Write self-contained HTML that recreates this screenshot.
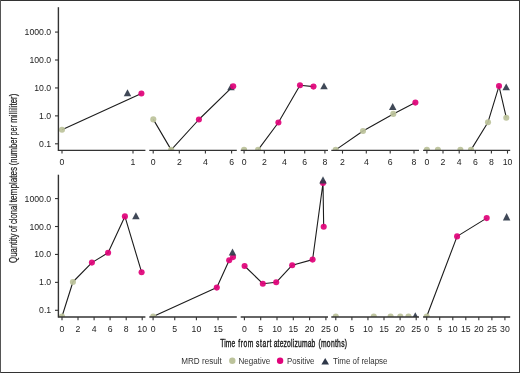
<!DOCTYPE html><html><head><meta charset="utf-8"><style>html,body{margin:0;padding:0;background:#fff;}svg{display:block;will-change:transform;}</style></head><body>
<svg width="520" height="373" viewBox="0 0 520 373">
<rect x="0" y="0" width="520" height="373" fill="#fff"/>
<defs>
<clipPath id="ct"><rect x="0" y="0" width="520" height="150.40"/></clipPath>
<clipPath id="cb"><rect x="0" y="160" width="520" height="157.00"/></clipPath>
</defs>
<g font-family='"Liberation Sans", sans-serif'>
<g clip-path="url(#ct)">
<polyline points="62,129.7 141.4,93.5" fill="none" stroke="#1c1c1c" stroke-width="1.1" stroke-linejoin="round"/>
<polyline points="153.3,119.4 171.2,149.9 198.9,119.5 233.2,86.2" fill="none" stroke="#1c1c1c" stroke-width="1.1" stroke-linejoin="round"/>
<polyline points="258.1,149.9 278.4,122.5 300,85.3 313.5,86.6" fill="none" stroke="#1c1c1c" stroke-width="1.1" stroke-linejoin="round"/>
<polyline points="335.7,149.9 363,131 393.3,113.9 415.4,102.6" fill="none" stroke="#1c1c1c" stroke-width="1.1" stroke-linejoin="round"/>
<polyline points="471.0,149.9 488,122.2 499,86.1 506.3,117.7" fill="none" stroke="#1c1c1c" stroke-width="1.1" stroke-linejoin="round"/>
<polygon points="227.25,90.3 234.75,90.3 231.0,83.4" fill="#2f3849" fill-opacity="0.92"/>
<circle cx="62" cy="129.7" r="3.05" fill="#bcc39b" fill-opacity="0.93"/>
<circle cx="141.4" cy="93.5" r="3.05" fill="#e0037a" fill-opacity="0.93"/>
<circle cx="153.3" cy="119.4" r="3.05" fill="#bcc39b" fill-opacity="0.93"/>
<circle cx="171.2" cy="149.9" r="3.05" fill="#bcc39b" fill-opacity="0.93"/>
<circle cx="198.9" cy="119.5" r="3.05" fill="#e0037a" fill-opacity="0.93"/>
<circle cx="233.2" cy="86.2" r="3.05" fill="#e0037a" fill-opacity="0.93"/>
<circle cx="244.1" cy="149.9" r="3.05" fill="#bcc39b" fill-opacity="0.93"/>
<circle cx="258.1" cy="149.9" r="3.05" fill="#bcc39b" fill-opacity="0.93"/>
<circle cx="278.4" cy="122.5" r="3.05" fill="#e0037a" fill-opacity="0.93"/>
<circle cx="300" cy="85.3" r="3.05" fill="#e0037a" fill-opacity="0.93"/>
<circle cx="313.5" cy="86.6" r="3.05" fill="#e0037a" fill-opacity="0.93"/>
<circle cx="335.7" cy="149.9" r="3.05" fill="#bcc39b" fill-opacity="0.93"/>
<circle cx="363" cy="131" r="3.05" fill="#bcc39b" fill-opacity="0.93"/>
<circle cx="393.3" cy="113.9" r="3.05" fill="#bcc39b" fill-opacity="0.93"/>
<circle cx="415.4" cy="102.6" r="3.05" fill="#e0037a" fill-opacity="0.93"/>
<circle cx="426.9" cy="149.9" r="3.05" fill="#bcc39b" fill-opacity="0.93"/>
<circle cx="437.9" cy="149.9" r="3.05" fill="#bcc39b" fill-opacity="0.93"/>
<circle cx="460.4" cy="149.9" r="3.05" fill="#bcc39b" fill-opacity="0.93"/>
<circle cx="471.0" cy="149.9" r="3.05" fill="#bcc39b" fill-opacity="0.93"/>
<circle cx="488" cy="122.2" r="3.05" fill="#bcc39b" fill-opacity="0.93"/>
<circle cx="499" cy="86.1" r="3.05" fill="#e0037a" fill-opacity="0.93"/>
<circle cx="506.3" cy="117.7" r="3.05" fill="#bcc39b" fill-opacity="0.93"/>
<polygon points="123.75,96.2 131.25,96.2 127.5,89.2" fill="#2f3849" fill-opacity="0.92"/>
<polygon points="320.25,89.3 327.75,89.3 324.0,82.5" fill="#2f3849" fill-opacity="0.92"/>
<polygon points="388.95,110.0 396.45,110.0 392.7,103.0" fill="#2f3849" fill-opacity="0.92"/>
<polygon points="502.45,90.3 509.95,90.3 506.2,83.5" fill="#2f3849" fill-opacity="0.92"/>
</g>
<g clip-path="url(#cb)">
<polyline points="62,316.5 72.9,282 91.9,262.6 108.1,252.8 124.9,216.4 141.6,272.2" fill="none" stroke="#1c1c1c" stroke-width="1.1" stroke-linejoin="round"/>
<polyline points="153.2,316.5 216.8,287.6 229.2,260.2 233.0,257.1" fill="none" stroke="#1c1c1c" stroke-width="1.1" stroke-linejoin="round"/>
<polyline points="244.6,266 262.8,283.7 276.2,282.3 292.2,265.2 312.6,259.6 323,183 323.7,226.8" fill="none" stroke="#1c1c1c" stroke-width="1.1" stroke-linejoin="round"/>
<polyline points="426.7,316.5 457.1,236.4 486.7,218.1" fill="none" stroke="#1c1c1c" stroke-width="1.1" stroke-linejoin="round"/>
<circle cx="62" cy="316.5" r="3.05" fill="#bcc39b" fill-opacity="0.93"/>
<circle cx="72.9" cy="282" r="3.05" fill="#bcc39b" fill-opacity="0.93"/>
<circle cx="91.9" cy="262.6" r="3.05" fill="#e0037a" fill-opacity="0.93"/>
<circle cx="108.1" cy="252.8" r="3.05" fill="#e0037a" fill-opacity="0.93"/>
<circle cx="124.9" cy="216.4" r="3.05" fill="#e0037a" fill-opacity="0.93"/>
<circle cx="141.6" cy="272.2" r="3.05" fill="#e0037a" fill-opacity="0.93"/>
<circle cx="153.2" cy="316.5" r="3.05" fill="#bcc39b" fill-opacity="0.93"/>
<circle cx="216.8" cy="287.6" r="3.05" fill="#e0037a" fill-opacity="0.93"/>
<circle cx="229.2" cy="260.2" r="3.05" fill="#e0037a" fill-opacity="0.93"/>
<circle cx="233.0" cy="257.1" r="3.05" fill="#e0037a" fill-opacity="0.93"/>
<circle cx="244.6" cy="266" r="3.05" fill="#e0037a" fill-opacity="0.93"/>
<circle cx="262.8" cy="283.7" r="3.05" fill="#e0037a" fill-opacity="0.93"/>
<circle cx="276.2" cy="282.3" r="3.05" fill="#e0037a" fill-opacity="0.93"/>
<circle cx="292.2" cy="265.2" r="3.05" fill="#e0037a" fill-opacity="0.93"/>
<circle cx="312.6" cy="259.6" r="3.05" fill="#e0037a" fill-opacity="0.93"/>
<circle cx="323" cy="183" r="3.05" fill="#e0037a" fill-opacity="0.93"/>
<circle cx="323.7" cy="226.8" r="3.05" fill="#e0037a" fill-opacity="0.93"/>
<circle cx="335.8" cy="316.5" r="3.05" fill="#bcc39b" fill-opacity="0.93"/>
<circle cx="373.8" cy="316.5" r="3.05" fill="#bcc39b" fill-opacity="0.93"/>
<circle cx="390.6" cy="316.5" r="3.05" fill="#bcc39b" fill-opacity="0.93"/>
<circle cx="400.3" cy="316.5" r="3.05" fill="#bcc39b" fill-opacity="0.93"/>
<circle cx="408.5" cy="316.5" r="3.05" fill="#bcc39b" fill-opacity="0.93"/>
<circle cx="426.7" cy="316.5" r="3.05" fill="#bcc39b" fill-opacity="0.93"/>
<circle cx="457.1" cy="236.4" r="3.05" fill="#e0037a" fill-opacity="0.93"/>
<circle cx="486.7" cy="218.1" r="3.05" fill="#e0037a" fill-opacity="0.93"/>
<polygon points="132.15,219.2 139.65,219.2 135.9,212.2" fill="#2f3849" fill-opacity="0.92"/>
<polygon points="228.75,255.5 236.25,255.5 232.5,248.4" fill="#2f3849" fill-opacity="0.92"/>
<polygon points="319.25,183.5 326.75,183.5 323.0,176.2" fill="#2f3849" fill-opacity="0.92"/>
<polygon points="411.55,319.3 419.05,319.3 415.3,312.3" fill="#2f3849" fill-opacity="0.92"/>
<polygon points="502.85,220.4 510.35,220.4 506.6,213.1" fill="#2f3849" fill-opacity="0.92"/>
</g>
<line x1="58.4" y1="7.2" x2="58.4" y2="151.0" stroke="#333333" stroke-width="1.4"/>
<line x1="55" y1="143.80" x2="58.4" y2="143.80" stroke="#333333" stroke-width="1.1"/>
<text x="51.2" y="146.85" text-anchor="end" font-size="9.3" fill="#222" textLength="12.09" lengthAdjust="spacingAndGlyphs">0.1</text>
<line x1="55" y1="115.87" x2="58.4" y2="115.87" stroke="#333333" stroke-width="1.1"/>
<text x="51.2" y="118.92" text-anchor="end" font-size="9.3" fill="#222" textLength="12.09" lengthAdjust="spacingAndGlyphs">1.0</text>
<line x1="55" y1="87.94" x2="58.4" y2="87.94" stroke="#333333" stroke-width="1.1"/>
<text x="51.2" y="90.99" text-anchor="end" font-size="9.3" fill="#222" textLength="16.93" lengthAdjust="spacingAndGlyphs">10.0</text>
<line x1="55" y1="60.01" x2="58.4" y2="60.01" stroke="#333333" stroke-width="1.1"/>
<text x="51.2" y="63.06" text-anchor="end" font-size="9.3" fill="#222" textLength="21.77" lengthAdjust="spacingAndGlyphs">100.0</text>
<line x1="55" y1="32.08" x2="58.4" y2="32.08" stroke="#333333" stroke-width="1.1"/>
<text x="51.2" y="35.13" text-anchor="end" font-size="9.3" fill="#222" textLength="26.61" lengthAdjust="spacingAndGlyphs">1000.0</text>
<line x1="58.4" y1="150.4" x2="145.4" y2="150.4" stroke="#333333" stroke-width="1.4"/>
<line x1="62" y1="150.4" x2="62" y2="153.6" stroke="#333333" stroke-width="1.1"/>
<text x="62" y="164.9" text-anchor="middle" font-size="9.3" fill="#222" textLength="4.84" lengthAdjust="spacingAndGlyphs">0</text>
<line x1="133" y1="150.4" x2="133" y2="153.6" stroke="#333333" stroke-width="1.1"/>
<text x="133" y="164.9" text-anchor="middle" font-size="9.3" fill="#222" textLength="4.84" lengthAdjust="spacingAndGlyphs">1</text>
<line x1="149.3" y1="150.4" x2="236.8" y2="150.4" stroke="#333333" stroke-width="1.4"/>
<line x1="153.2" y1="150.4" x2="153.2" y2="153.6" stroke="#333333" stroke-width="1.1"/>
<text x="153.2" y="164.9" text-anchor="middle" font-size="9.3" fill="#222" textLength="4.84" lengthAdjust="spacingAndGlyphs">0</text>
<line x1="179.3" y1="150.4" x2="179.3" y2="153.6" stroke="#333333" stroke-width="1.1"/>
<text x="179.3" y="164.9" text-anchor="middle" font-size="9.3" fill="#222" textLength="4.84" lengthAdjust="spacingAndGlyphs">2</text>
<line x1="205.4" y1="150.4" x2="205.4" y2="153.6" stroke="#333333" stroke-width="1.1"/>
<text x="205.4" y="164.9" text-anchor="middle" font-size="9.3" fill="#222" textLength="4.84" lengthAdjust="spacingAndGlyphs">4</text>
<line x1="231.6" y1="150.4" x2="231.6" y2="153.6" stroke="#333333" stroke-width="1.1"/>
<text x="231.6" y="164.9" text-anchor="middle" font-size="9.3" fill="#222" textLength="4.84" lengthAdjust="spacingAndGlyphs">6</text>
<line x1="240.7" y1="150.4" x2="328" y2="150.4" stroke="#333333" stroke-width="1.4"/>
<line x1="244.1" y1="150.4" x2="244.1" y2="153.6" stroke="#333333" stroke-width="1.1"/>
<text x="244.1" y="164.9" text-anchor="middle" font-size="9.3" fill="#222" textLength="4.84" lengthAdjust="spacingAndGlyphs">0</text>
<line x1="264.3" y1="150.4" x2="264.3" y2="153.6" stroke="#333333" stroke-width="1.1"/>
<text x="264.3" y="164.9" text-anchor="middle" font-size="9.3" fill="#222" textLength="4.84" lengthAdjust="spacingAndGlyphs">2</text>
<line x1="284.5" y1="150.4" x2="284.5" y2="153.6" stroke="#333333" stroke-width="1.1"/>
<text x="284.5" y="164.9" text-anchor="middle" font-size="9.3" fill="#222" textLength="4.84" lengthAdjust="spacingAndGlyphs">4</text>
<line x1="304.7" y1="150.4" x2="304.7" y2="153.6" stroke="#333333" stroke-width="1.1"/>
<text x="304.7" y="164.9" text-anchor="middle" font-size="9.3" fill="#222" textLength="4.84" lengthAdjust="spacingAndGlyphs">6</text>
<line x1="324.9" y1="150.4" x2="324.9" y2="153.6" stroke="#333333" stroke-width="1.1"/>
<text x="324.9" y="164.9" text-anchor="middle" font-size="9.3" fill="#222" textLength="4.84" lengthAdjust="spacingAndGlyphs">8</text>
<line x1="331.3" y1="150.4" x2="419" y2="150.4" stroke="#333333" stroke-width="1.4"/>
<line x1="342.5" y1="150.4" x2="342.5" y2="153.6" stroke="#333333" stroke-width="1.1"/>
<text x="342.5" y="164.9" text-anchor="middle" font-size="9.3" fill="#222" textLength="4.84" lengthAdjust="spacingAndGlyphs">2</text>
<line x1="366.3" y1="150.4" x2="366.3" y2="153.6" stroke="#333333" stroke-width="1.1"/>
<text x="366.3" y="164.9" text-anchor="middle" font-size="9.3" fill="#222" textLength="4.84" lengthAdjust="spacingAndGlyphs">4</text>
<line x1="390.2" y1="150.4" x2="390.2" y2="153.6" stroke="#333333" stroke-width="1.1"/>
<text x="390.2" y="164.9" text-anchor="middle" font-size="9.3" fill="#222" textLength="4.84" lengthAdjust="spacingAndGlyphs">6</text>
<line x1="414" y1="150.4" x2="414" y2="153.6" stroke="#333333" stroke-width="1.1"/>
<text x="414" y="164.9" text-anchor="middle" font-size="9.3" fill="#222" textLength="4.84" lengthAdjust="spacingAndGlyphs">8</text>
<line x1="423.1" y1="150.4" x2="510.2" y2="150.4" stroke="#333333" stroke-width="1.4"/>
<line x1="426.9" y1="150.4" x2="426.9" y2="153.6" stroke="#333333" stroke-width="1.1"/>
<text x="426.9" y="164.9" text-anchor="middle" font-size="9.3" fill="#222" textLength="4.84" lengthAdjust="spacingAndGlyphs">0</text>
<line x1="443.0" y1="150.4" x2="443.0" y2="153.6" stroke="#333333" stroke-width="1.1"/>
<text x="443.0" y="164.9" text-anchor="middle" font-size="9.3" fill="#222" textLength="4.84" lengthAdjust="spacingAndGlyphs">2</text>
<line x1="459.2" y1="150.4" x2="459.2" y2="153.6" stroke="#333333" stroke-width="1.1"/>
<text x="459.2" y="164.9" text-anchor="middle" font-size="9.3" fill="#222" textLength="4.84" lengthAdjust="spacingAndGlyphs">4</text>
<line x1="475.3" y1="150.4" x2="475.3" y2="153.6" stroke="#333333" stroke-width="1.1"/>
<text x="475.3" y="164.9" text-anchor="middle" font-size="9.3" fill="#222" textLength="4.84" lengthAdjust="spacingAndGlyphs">6</text>
<line x1="491.4" y1="150.4" x2="491.4" y2="153.6" stroke="#333333" stroke-width="1.1"/>
<text x="491.4" y="164.9" text-anchor="middle" font-size="9.3" fill="#222" textLength="4.84" lengthAdjust="spacingAndGlyphs">8</text>
<line x1="507.5" y1="150.4" x2="507.5" y2="153.6" stroke="#333333" stroke-width="1.1"/>
<text x="507.5" y="164.9" text-anchor="middle" font-size="9.3" fill="#222" textLength="9.68" lengthAdjust="spacingAndGlyphs">10</text>
<line x1="58.4" y1="174.7" x2="58.4" y2="317.6" stroke="#333333" stroke-width="1.4"/>
<line x1="55" y1="310.30" x2="58.4" y2="310.30" stroke="#333333" stroke-width="1.1"/>
<text x="51.2" y="313.35" text-anchor="end" font-size="9.3" fill="#222" textLength="12.09" lengthAdjust="spacingAndGlyphs">0.1</text>
<line x1="55" y1="282.37" x2="58.4" y2="282.37" stroke="#333333" stroke-width="1.1"/>
<text x="51.2" y="285.42" text-anchor="end" font-size="9.3" fill="#222" textLength="12.09" lengthAdjust="spacingAndGlyphs">1.0</text>
<line x1="55" y1="254.44" x2="58.4" y2="254.44" stroke="#333333" stroke-width="1.1"/>
<text x="51.2" y="257.49" text-anchor="end" font-size="9.3" fill="#222" textLength="16.93" lengthAdjust="spacingAndGlyphs">10.0</text>
<line x1="55" y1="226.51" x2="58.4" y2="226.51" stroke="#333333" stroke-width="1.1"/>
<text x="51.2" y="229.56" text-anchor="end" font-size="9.3" fill="#222" textLength="21.77" lengthAdjust="spacingAndGlyphs">100.0</text>
<line x1="55" y1="198.58" x2="58.4" y2="198.58" stroke="#333333" stroke-width="1.1"/>
<text x="51.2" y="201.63" text-anchor="end" font-size="9.3" fill="#222" textLength="26.61" lengthAdjust="spacingAndGlyphs">1000.0</text>
<line x1="58.4" y1="317.0" x2="145.4" y2="317.0" stroke="#333333" stroke-width="1.4"/>
<line x1="62" y1="317.0" x2="62" y2="320.2" stroke="#333333" stroke-width="1.1"/>
<text x="62" y="331.7" text-anchor="middle" font-size="9.3" fill="#222" textLength="4.84" lengthAdjust="spacingAndGlyphs">0</text>
<line x1="78" y1="317.0" x2="78" y2="320.2" stroke="#333333" stroke-width="1.1"/>
<text x="78" y="331.7" text-anchor="middle" font-size="9.3" fill="#222" textLength="4.84" lengthAdjust="spacingAndGlyphs">2</text>
<line x1="94.1" y1="317.0" x2="94.1" y2="320.2" stroke="#333333" stroke-width="1.1"/>
<text x="94.1" y="331.7" text-anchor="middle" font-size="9.3" fill="#222" textLength="4.84" lengthAdjust="spacingAndGlyphs">4</text>
<line x1="110.1" y1="317.0" x2="110.1" y2="320.2" stroke="#333333" stroke-width="1.1"/>
<text x="110.1" y="331.7" text-anchor="middle" font-size="9.3" fill="#222" textLength="4.84" lengthAdjust="spacingAndGlyphs">6</text>
<line x1="126.2" y1="317.0" x2="126.2" y2="320.2" stroke="#333333" stroke-width="1.1"/>
<text x="126.2" y="331.7" text-anchor="middle" font-size="9.3" fill="#222" textLength="4.84" lengthAdjust="spacingAndGlyphs">8</text>
<line x1="142.2" y1="317.0" x2="142.2" y2="320.2" stroke="#333333" stroke-width="1.1"/>
<text x="142.2" y="331.7" text-anchor="middle" font-size="9.3" fill="#222" textLength="9.68" lengthAdjust="spacingAndGlyphs">10</text>
<line x1="149.3" y1="317.0" x2="236.8" y2="317.0" stroke="#333333" stroke-width="1.4"/>
<line x1="153.1" y1="317.0" x2="153.1" y2="320.2" stroke="#333333" stroke-width="1.1"/>
<text x="153.1" y="331.7" text-anchor="middle" font-size="9.3" fill="#222" textLength="4.84" lengthAdjust="spacingAndGlyphs">0</text>
<line x1="174.75" y1="317.0" x2="174.75" y2="320.2" stroke="#333333" stroke-width="1.1"/>
<text x="174.75" y="331.7" text-anchor="middle" font-size="9.3" fill="#222" textLength="4.84" lengthAdjust="spacingAndGlyphs">5</text>
<line x1="196.4" y1="317.0" x2="196.4" y2="320.2" stroke="#333333" stroke-width="1.1"/>
<text x="196.4" y="331.7" text-anchor="middle" font-size="9.3" fill="#222" textLength="9.68" lengthAdjust="spacingAndGlyphs">10</text>
<line x1="218.05" y1="317.0" x2="218.05" y2="320.2" stroke="#333333" stroke-width="1.1"/>
<text x="218.05" y="331.7" text-anchor="middle" font-size="9.3" fill="#222" textLength="9.68" lengthAdjust="spacingAndGlyphs">15</text>
<line x1="240.7" y1="317.0" x2="328" y2="317.0" stroke="#333333" stroke-width="1.4"/>
<line x1="244.4" y1="317.0" x2="244.4" y2="320.2" stroke="#333333" stroke-width="1.1"/>
<text x="244.4" y="331.7" text-anchor="middle" font-size="9.3" fill="#222" textLength="4.84" lengthAdjust="spacingAndGlyphs">0</text>
<line x1="260.7" y1="317.0" x2="260.7" y2="320.2" stroke="#333333" stroke-width="1.1"/>
<text x="260.7" y="331.7" text-anchor="middle" font-size="9.3" fill="#222" textLength="4.84" lengthAdjust="spacingAndGlyphs">5</text>
<line x1="277" y1="317.0" x2="277" y2="320.2" stroke="#333333" stroke-width="1.1"/>
<text x="277" y="331.7" text-anchor="middle" font-size="9.3" fill="#222" textLength="9.68" lengthAdjust="spacingAndGlyphs">10</text>
<line x1="293.3" y1="317.0" x2="293.3" y2="320.2" stroke="#333333" stroke-width="1.1"/>
<text x="293.3" y="331.7" text-anchor="middle" font-size="9.3" fill="#222" textLength="9.68" lengthAdjust="spacingAndGlyphs">15</text>
<line x1="309.6" y1="317.0" x2="309.6" y2="320.2" stroke="#333333" stroke-width="1.1"/>
<text x="309.6" y="331.7" text-anchor="middle" font-size="9.3" fill="#222" textLength="9.68" lengthAdjust="spacingAndGlyphs">20</text>
<line x1="325.9" y1="317.0" x2="325.9" y2="320.2" stroke="#333333" stroke-width="1.1"/>
<text x="325.9" y="331.7" text-anchor="middle" font-size="9.3" fill="#222" textLength="9.68" lengthAdjust="spacingAndGlyphs">25</text>
<line x1="331.3" y1="317.0" x2="419" y2="317.0" stroke="#333333" stroke-width="1.4"/>
<line x1="335.8" y1="317.0" x2="335.8" y2="320.2" stroke="#333333" stroke-width="1.1"/>
<text x="335.8" y="331.7" text-anchor="middle" font-size="9.3" fill="#222" textLength="4.84" lengthAdjust="spacingAndGlyphs">0</text>
<line x1="351.9" y1="317.0" x2="351.9" y2="320.2" stroke="#333333" stroke-width="1.1"/>
<text x="351.9" y="331.7" text-anchor="middle" font-size="9.3" fill="#222" textLength="4.84" lengthAdjust="spacingAndGlyphs">5</text>
<line x1="367.95" y1="317.0" x2="367.95" y2="320.2" stroke="#333333" stroke-width="1.1"/>
<text x="367.95" y="331.7" text-anchor="middle" font-size="9.3" fill="#222" textLength="9.68" lengthAdjust="spacingAndGlyphs">10</text>
<line x1="384" y1="317.0" x2="384" y2="320.2" stroke="#333333" stroke-width="1.1"/>
<text x="384" y="331.7" text-anchor="middle" font-size="9.3" fill="#222" textLength="9.68" lengthAdjust="spacingAndGlyphs">15</text>
<line x1="400.1" y1="317.0" x2="400.1" y2="320.2" stroke="#333333" stroke-width="1.1"/>
<text x="400.1" y="331.7" text-anchor="middle" font-size="9.3" fill="#222" textLength="9.68" lengthAdjust="spacingAndGlyphs">20</text>
<line x1="416.2" y1="317.0" x2="416.2" y2="320.2" stroke="#333333" stroke-width="1.1"/>
<text x="416.2" y="331.7" text-anchor="middle" font-size="9.3" fill="#222" textLength="9.68" lengthAdjust="spacingAndGlyphs">25</text>
<line x1="423.1" y1="317.0" x2="510.2" y2="317.0" stroke="#333333" stroke-width="1.4"/>
<line x1="426.7" y1="317.0" x2="426.7" y2="320.2" stroke="#333333" stroke-width="1.1"/>
<text x="426.7" y="331.7" text-anchor="middle" font-size="9.3" fill="#222" textLength="4.84" lengthAdjust="spacingAndGlyphs">0</text>
<line x1="439.7" y1="317.0" x2="439.7" y2="320.2" stroke="#333333" stroke-width="1.1"/>
<text x="439.7" y="331.7" text-anchor="middle" font-size="9.3" fill="#222" textLength="4.84" lengthAdjust="spacingAndGlyphs">5</text>
<line x1="452.8" y1="317.0" x2="452.8" y2="320.2" stroke="#333333" stroke-width="1.1"/>
<text x="452.8" y="331.7" text-anchor="middle" font-size="9.3" fill="#222" textLength="9.68" lengthAdjust="spacingAndGlyphs">10</text>
<line x1="465.8" y1="317.0" x2="465.8" y2="320.2" stroke="#333333" stroke-width="1.1"/>
<text x="465.8" y="331.7" text-anchor="middle" font-size="9.3" fill="#222" textLength="9.68" lengthAdjust="spacingAndGlyphs">15</text>
<line x1="478.8" y1="317.0" x2="478.8" y2="320.2" stroke="#333333" stroke-width="1.1"/>
<text x="478.8" y="331.7" text-anchor="middle" font-size="9.3" fill="#222" textLength="9.68" lengthAdjust="spacingAndGlyphs">20</text>
<line x1="491.9" y1="317.0" x2="491.9" y2="320.2" stroke="#333333" stroke-width="1.1"/>
<text x="491.9" y="331.7" text-anchor="middle" font-size="9.3" fill="#222" textLength="9.68" lengthAdjust="spacingAndGlyphs">25</text>
<line x1="504.9" y1="317.0" x2="504.9" y2="320.2" stroke="#333333" stroke-width="1.1"/>
<text x="504.9" y="331.7" text-anchor="middle" font-size="9.3" fill="#222" textLength="9.68" lengthAdjust="spacingAndGlyphs">30</text>
<text transform="translate(16.6,262.95) rotate(-90)" font-size="10" fill="#1e1e1e" stroke="#1e1e1e" stroke-width="0.2" textLength="29.30" lengthAdjust="spacingAndGlyphs">Quantity</text>
<text transform="translate(16.6,232.15) rotate(-90)" font-size="10" fill="#1e1e1e" stroke="#1e1e1e" stroke-width="0.2" textLength="6.40" lengthAdjust="spacingAndGlyphs">of</text>
<text transform="translate(16.6,224.05) rotate(-90)" font-size="10" fill="#1e1e1e" stroke="#1e1e1e" stroke-width="0.2" textLength="20.10" lengthAdjust="spacingAndGlyphs">clonal</text>
<text transform="translate(16.6,202.15) rotate(-90)" font-size="10" fill="#1e1e1e" stroke="#1e1e1e" stroke-width="0.2" textLength="35.20" lengthAdjust="spacingAndGlyphs">templates</text>
<text transform="translate(16.6,165.15) rotate(-90)" font-size="10" fill="#1e1e1e" stroke="#1e1e1e" stroke-width="0.2" textLength="28.20" lengthAdjust="spacingAndGlyphs">(number</text>
<text transform="translate(16.6,135.15) rotate(-90)" font-size="10" fill="#1e1e1e" stroke="#1e1e1e" stroke-width="0.2" textLength="9.90" lengthAdjust="spacingAndGlyphs">per</text>
<text transform="translate(16.6,122.85) rotate(-90)" font-size="10" fill="#1e1e1e" stroke="#1e1e1e" stroke-width="0.2" textLength="29.30" lengthAdjust="spacingAndGlyphs">milliliter)</text>
<text transform="translate(220.35,347.0) scale(0.64,1)" font-size="10.5" fill="#1a1a1a" stroke="#1a1a1a" stroke-width="0.4" textLength="23.12" lengthAdjust="spacing">Time</text>
<text transform="translate(238.35,347.0) scale(0.64,1)" font-size="10.5" fill="#1a1a1a" stroke="#1a1a1a" stroke-width="0.4" textLength="23.44" lengthAdjust="spacing">from</text>
<text transform="translate(255.95,347.0) scale(0.64,1)" font-size="10.5" fill="#1a1a1a" stroke="#1a1a1a" stroke-width="0.4" textLength="24.22" lengthAdjust="spacing">start</text>
<text transform="translate(273.65,347.0) scale(0.64,1)" font-size="10.5" fill="#1a1a1a" stroke="#1a1a1a" stroke-width="0.4" textLength="65.16" lengthAdjust="spacing">atezolizumab</text>
<text transform="translate(318.45,347.0) scale(0.64,1)" font-size="10.5" fill="#1a1a1a" stroke="#1a1a1a" stroke-width="0.4" textLength="44.69" lengthAdjust="spacing">(months)</text>
<text x="181.2" y="363.6" font-size="8.3" fill="#333" textLength="40.6" lengthAdjust="spacingAndGlyphs">MRD result</text>
<circle cx="232.3" cy="360.7" r="3.2" fill="#bcc39b"/>
<text x="238.5" y="363.6" font-size="8.3" fill="#333" textLength="31.7" lengthAdjust="spacingAndGlyphs">Negative</text>
<circle cx="280.1" cy="360.7" r="3.2" fill="#e0037a"/>
<text x="287" y="363.6" font-size="8.3" fill="#333" textLength="27.5" lengthAdjust="spacingAndGlyphs">Positive</text>
<polygon points="321.4,364.6 329.0,364.6 325.2,357.9" fill="#2f3849"/>
<text x="333" y="363.6" font-size="8.3" fill="#333" textLength="54.5" lengthAdjust="spacingAndGlyphs">Time of relapse</text>
</g>
<rect x="0" y="0" width="520" height="1" fill="#333"/>
<rect x="0" y="372" width="520" height="1" fill="#333"/>
<rect x="0" y="0" width="1" height="373" fill="#555"/>
<rect x="519" y="0" width="1" height="373" fill="#3a3a3a"/>
</svg></body></html>
